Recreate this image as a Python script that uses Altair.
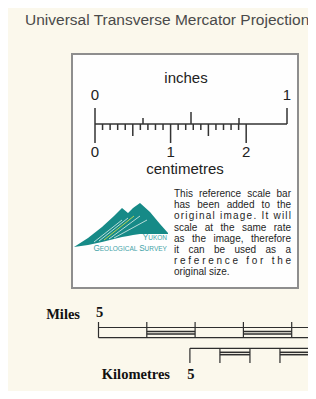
import altair as alt
import pandas as pd

# ---------------- data ----------------
title_text = "Universal Transverse Mercator Projection"
inch_ends = [0, 1]
inch_quarters = [0.25, 0.75]
inch_halves = [0.5]
inch_labels = ["0", "1"]
unit_inches = "inches"
mm_marks = list(range(1, 21))
cm_labels = ["0", "1", "2"]
unit_cm = "centimetres"
note_lines = [
    "This reference scale bar",
    "has been added to the",
    "original image. It will",
    "scale at the same rate",
    "as the image, therefore",
    "it can be used as a",
    "reference for the",
    "original size.",
]
logo_name_1 = [("Y", 8.2), ("UKON", 6.5)]
logo_name_2 = [("G", 8.2), ("EOLOGICAL ", 6.5), ("S", 8.2), ("URVEY", 6.5)]
logo_x = [74, 88, 102, 114, 122, 128, 133, 140, 150, 160, 168]
logo_top = [247, 238, 227, 216, 208, 213, 208, 203, 212, 224, 233]
logo_bot = [247, 245, 242, 239, 237, 236, 235, 234, 234, 234, 234]
stripe_from = [(94, 242), (99, 241), (104, 240), (109, 239), (114, 238)]
stripe_to = [(122, 220), (128, 218), (134, 216), (140, 216), (147, 220)]
miles_label = "Miles"
miles_ticks = [5, 4, 3, 2, 1, 0]
miles_filled = [4, 2]
km_label = "Kilometres"
km_ticks = [5, 4, 3, 2, 1, 0]
km_filled = [4, 2]

# ---------------- layout ----------------
OX, OY = 8, 8
W, H = 300, 383
INK = "#2e2e2e"
TEAL = "#168a87"
TEAL_TXT = "#43a3a7"

RX0, PPI, RY = 95.0, 192.0, 124.0        # ruler origin, px per inch, baseline
PPCM = PPI / 2.54
ZERO_PX, PPM = 340.0, 48.3                # scale-bar zero point, px per mile
PPK = PPM / 1.609

HELV = dict(zip("abcdefghijklmnopqrstuvwxyz",
                [556, 556, 500, 556, 556, 278, 556, 556, 222, 222, 500, 222, 833,
                 556, 556, 556, 556, 333, 500, 278, 556, 500, 722, 500, 500, 500]))
HELV.update(dict(zip("ABCDEFGHIJKLMNOPQRSTUVWXYZ",
                     [667, 667, 722, 722, 667, 611, 778, 722, 278, 500, 667, 556, 833,
                      722, 778, 667, 778, 722, 667, 611, 722, 667, 944, 667, 667, 611])))
HELV.update({" ": 278, ".": 278, ",": 278})


def tw(s, size):
    return sum(HELV.get(c, 556) for c in s) / 1000.0 * size


X = alt.X("x:Q", scale=alt.Scale(domain=[OX, OX + W], nice=False, zero=False), axis=None)
Y = alt.Y("y:Q", scale=alt.Scale(domain=[OY, OY + H], nice=False, zero=False, reverse=True), axis=None)
X2 = alt.X2("x2:Q")
Y2 = alt.Y2("y2:Q")


def rules(rows, width=1.4, color=INK):
    df = pd.DataFrame(rows, columns=["x", "x2", "y", "y2"])
    return alt.Chart(df).mark_rule(strokeWidth=width, color=color).encode(X, X2, Y, Y2)


def texts(rows, **kw):
    kw.setdefault("baseline", "middle")
    df = pd.DataFrame(rows, columns=["x", "y", "t"])
    return alt.Chart(df).mark_text(**kw).encode(X, Y, text="t:N")


layers = []

# page background and framed box
layers.append(alt.Chart(pd.DataFrame([[OX, OX + W, OY, OY + H]], columns=["x", "x2", "y", "y2"]))
              .mark_rect(color="#fbf8ec").encode(X, X2, Y, Y2))
layers.append(alt.Chart(pd.DataFrame([[72, 298, 54, 288]], columns=["x", "x2", "y", "y2"]))
              .mark_rect(fill="#fefefe", stroke="#8e8e8e", strokeWidth=2).encode(X, X2, Y, Y2))

# title
layers.append(texts([[25, 20, title_text]], align="left", font="Liberation Sans",
                    fontSize=15.5, color="#4a4a4a"))

# ruler
ruler = [[RX0, RX0 + PPI, RY, RY]]
ruler.append([RX0, RX0, RY - 16, RY + 19])
ruler.append([RX0 + PPI, RX0 + PPI, RY - 16, RY])
ruler += [[RX0 + PPI * v, RX0 + PPI * v, RY - 6, RY] for v in inch_quarters]
ruler += [[RX0 + PPI * v, RX0 + PPI * v, RY - 12, RY] for v in inch_halves]
for m in mm_marks:
    xm = RX0 + PPCM * m / 10.0
    ln = 19 if m % 10 == 0 else (12 if m % 5 == 0 else 6)
    ruler.append([xm, xm, RY, RY + ln])
layers.append(rules(ruler, width=1.5, color="#333333"))

lab = [[RX0 + PPI * v, 95, s] for v, s in zip(inch_ends, inch_labels)]
lab += [[RX0 + PPCM * i, 152, s] for i, s in enumerate(cm_labels)]
lab += [[186, 78, unit_inches], [185, 169, unit_cm]]
layers.append(texts(lab, align="center", font="Liberation Sans", fontSize=15, color="#222222"))

# note paragraph, justified
NL, NR, NY, NS, FS = 174.0, 291.0, 194.0, 11.2, 10.0
note_rows = []
for i, line in enumerate(note_lines):
    y = NY + NS * i
    words = line.split(" ")
    last = i == len(note_lines) - 1
    if last or len(words) == 1:
        note_rows.append([NL, y, line])
        continue
    total = sum(tw(w, FS) for w in words)
    gap = (NR - NL - total) / (len(words) - 1)
    if gap > 10:
        chars = list(line)
        extra = (NR - NL - tw(line, FS)) / (len(chars) - 1)
        x = NL
        for c in chars:
            if c != " ":
                note_rows.append([x, y, c])
            x += tw(c, FS) + extra
    else:
        x = NL
        for w in words:
            note_rows.append([x, y, w])
            x += tw(w, FS) + gap
layers.append(texts(note_rows, align="left", font="Liberation Sans", fontSize=FS, color="#1e1e1e"))

# logo
logo_df = pd.DataFrame({"x": logo_x, "y": logo_top, "y2": logo_bot})
layers.append(alt.Chart(logo_df).mark_area(color=TEAL, opacity=1).encode(X, Y, Y2))
stripe_rows = [[a[0], b[0], a[1], b[1]] for a, b in zip(stripe_from, stripe_to)]
layers.append(rules(stripe_rows[:2] + stripe_rows[3:], width=0.8, color="#dff0ee"))
layers.append(rules(stripe_rows[2:3], width=1.0, color="#b9d352"))


def small_caps(runs, right, y):
    width = sum(tw(t, s) for t, s in runs)
    x = right - width
    out = []
    for t, s in runs:
        out.append((x, y, t, s))
        x += tw(t, s)
    return out


for t_runs, yy in ((logo_name_1, 239.5), (logo_name_2, 250.5)):
    for x, y, t, s in small_caps(t_runs, 167, yy):
        layers.append(texts([[x, y, t]], align="left", font="Liberation Sans", fontSize=s,
                            color=TEAL_TXT, baseline="alphabetic"))

# miles bar
MT, MB, MTT = 327.5, 337.7, 322.0
mx = [ZERO_PX - PPM * v for v in miles_ticks]
mrows = [[mx[0], ZERO_PX, MT, MT], [mx[0], ZERO_PX, MB, MB]]
mrows += [[x, x, MTT, MB] for x in mx]
layers.append(rules(mrows, width=1.2))
fr = []
for v in miles_filled:
    a, b = ZERO_PX - PPM * v, ZERO_PX - PPM * (v - 1)
    fr += [[a, b, 331.6, 331.6], [a, b, 334.0, 334.0]]
layers.append(rules(fr, width=1.5))

# kilometre bar
KT, KTB = 348.3, 363.0
kx = [ZERO_PX - PPK * v for v in km_ticks]
krows = [[kx[0], ZERO_PX, KT, KT]]
krows += [[x, x, KT, KTB] for x in kx]
layers.append(rules(krows, width=1.2))
fk = []
for v in km_filled:
    a, b = ZERO_PX - PPK * v, ZERO_PX - PPK * (v - 1)
    fk += [[a, b, 352.3, 352.3], [a, b, 354.7, 354.7]]
layers.append(rules(fk, width=1.5))

serif = [[80, 315, miles_label], [170, 375, km_label]]
layers.append(texts(serif, align="right", font="Liberation Serif", fontSize=14.5,
                    color="#111111", fontWeight=600))
fives = [[mx[0] + 1, 313, str(miles_ticks[0])], [kx[0] + 1, 375, str(km_ticks[0])]]
layers.append(texts(fives, align="center", font="Liberation Serif", fontSize=14.5,
                    color="#111111", fontWeight=600))

chart = alt.layer(*layers).properties(
    width=W, height=H, padding=0, background="#fbf8ec",
    autosize=alt.AutoSizeParams(type="none"),
).configure_view(strokeWidth=0)

chart.save("out.html", embed_options={"renderer": "svg", "actions": False})
